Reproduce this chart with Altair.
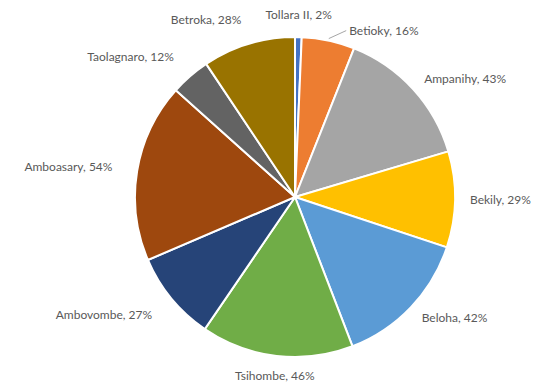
import altair as alt
import pandas as pd

regions = ["Tollara II", "Betioky", "Ampanihy", "Bekily", "Beloha",
           "Tsihombe", "Ambovombe", "Amboasary", "Taolagnaro", "Betroka"]
values = [2, 16, 43, 29, 42, 46, 27, 54, 12, 28]
colors = ["#4472C4", "#ED7D31", "#A5A5A5", "#FFC000", "#5B9BD5",
          "#70AD47", "#264478", "#9E480E", "#636363", "#997300"]

df = pd.DataFrame({"region": regions, "value": values, "idx": list(range(len(regions)))})

R = 160
GAP = 15
W, H = 498, 374
CX, CY = W / 2, H / 2

base = (
    alt.Chart(df)
    .transform_window(cum="sum(value)", sort=[alt.SortField("idx", order="ascending")], frame=[None, 0])
    .transform_joinaggregate(total="sum(value)")
    .transform_calculate(
        mid="2*PI*(datum.cum - datum.value/2)/datum.total",
        label="datum.region + ', ' + datum.value + '%'",
    )
    .transform_calculate(ang="datum.mid + (datum.region == 'Betioky' ? PI/30 : 0)")
    .transform_calculate(lr=f"{R + GAP} + (sin(datum.ang) < -0.25 ? 10 : 0)")
)

pie = alt.Chart(df).mark_arc(outerRadius=R, stroke="white", strokeWidth=2).encode(
    theta=alt.Theta("value:Q", stack=True),
    color=alt.Color("region:N", scale=alt.Scale(domain=regions, range=colors), legend=None),
    order=alt.Order("idx:Q", sort="ascending"),
)

leader = (
    base.transform_filter("datum.region == 'Betioky'")
    .transform_calculate(
        x1=f"{CX} + {R + 2}*sin(datum.mid)",
        y1=f"{CY} - {R + 2}*cos(datum.mid)",
        x2=f"{CX} + {R + GAP}*sin(datum.ang) - 3",
        y2=f"{CY} - {R + GAP}*cos(datum.ang)",
    )
    .mark_rule(color="#A6A6A6", strokeWidth=1)
    .encode(
        x=alt.X("x1:Q", scale=None),
        y=alt.Y("y1:Q", scale=None),
        x2="x2:Q",
        y2="y2:Q",
    )
)


def labels(cond, align, baseline):
    return (
        base.transform_filter(cond)
        .mark_text(align=align, baseline=baseline, font="Lato", fontSize=12, color="#595959")
        .encode(
            theta=alt.Theta("ang:Q", scale=None),
            radius=alt.Radius("lr:Q", scale=None),
            text="label:N",
        )
    )


texts = [
    labels("abs(sin(datum.ang)) < 0.25 && cos(datum.ang) > 0", "center", "bottom"),
    labels("abs(sin(datum.ang)) < 0.25 && cos(datum.ang) < 0", "center", "top"),
    labels("sin(datum.ang) >= 0.25", "left", "middle"),
    labels("sin(datum.ang) <= -0.25", "right", "middle"),
]

chart = (
    alt.layer(pie, leader, *texts)
    .properties(
        width=W,
        height=H,
        padding={"left": 46, "top": 10, "right": 0, "bottom": 3},
        autosize=alt.AutoSizeParams(type="none"),
        background="white",
    )
    .configure_view(strokeWidth=0)
)

chart.save("out.html", embed_options={"renderer": "svg", "actions": False})
